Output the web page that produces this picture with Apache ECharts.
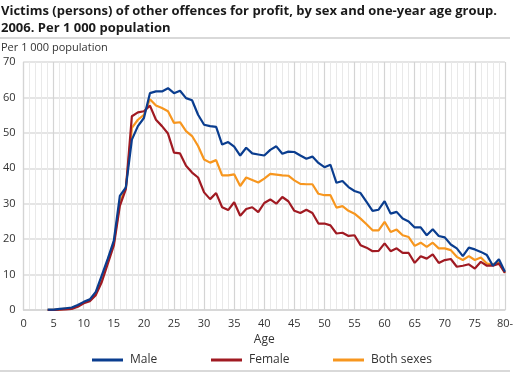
<!DOCTYPE html>
<html>
<head>
<meta charset="utf-8">
<script src="https://cdn.jsdelivr.net/npm/echarts@6/dist/echarts.min.js"></script>
<style>
  html, body { margin: 0; padding: 0; background: #fff; }
  #chart { width: 516px; height: 375px; }
</style>
</head>
<body>
<div id="chart"></div>
<script>
// ages 4..80 (80 = "80-")
var ages = [4, 5, 6, 7, 8, 9, 10, 11, 12, 13, 14, 15, 16, 17, 18, 19, 20, 21, 22, 23, 24, 25, 26, 27, 28, 29,
    30, 31, 32, 33, 34, 35, 36, 37, 38, 39, 40, 41, 42, 43, 44, 45, 46, 47, 48, 49, 50, 51, 52, 53, 54, 55,
    56, 57, 58, 59, 60, 61, 62, 63, 64, 65, 66, 67, 68, 69, 70, 71, 72, 73, 74, 75, 76, 77, 78, 79, 80];

var male = [0.1, 0.1, 0.3, 0.5, 0.7, 1.4, 2.3, 3.0, 5.1, 9.8, 14.5, 19.6, 32.2, 34.6, 48.1, 51.9, 54.2, 61.2,
    61.7, 61.7, 62.6, 61.2, 61.9, 59.8, 59.2, 55.1, 52.3, 51.9, 51.7, 46.7, 47.4, 46.1, 43.6, 45.8, 44.2, 43.9,
    43.6, 45.2, 46.2, 44.1, 44.7, 44.6, 43.6, 42.7, 43.3, 41.5, 40.3, 41.0, 35.9, 36.4, 34.7, 33.6, 33.0, 30.5,
    28.0, 28.3, 30.7, 27.2, 27.7, 25.8, 25.0, 23.3, 23.3, 21.1, 22.8, 20.9, 20.5, 18.5, 17.4, 15.2, 17.6, 17.1,
    16.4, 15.5, 12.5, 14.3, 10.8];

var female = [0, 0, 0.1, 0.2, 0.3, 0.9, 1.9, 2.5, 4.2, 7.9, 13.1, 18.2, 29.4, 34.1, 54.7, 55.8, 56.1, 57.7,
    53.7, 51.9, 49.8, 44.4, 44.2, 40.7, 38.8, 37.4, 33.2, 31.3, 33.0, 29.0, 28.2, 30.4, 26.6, 28.5, 29.0, 27.6,
    30.2, 31.2, 30.0, 31.9, 30.7, 28.0, 27.4, 28.3, 27.4, 24.4, 24.4, 23.9, 21.6, 21.8, 20.9, 21.1, 18.3, 17.6,
    16.6, 16.7, 18.8, 16.6, 17.4, 16.1, 16.1, 13.3, 15.2, 14.5, 15.7, 13.3, 14.1, 14.4, 12.2, 12.5, 12.9, 11.7,
    13.6, 12.5, 12.5, 13.1, 10.5];

var both = [0.05, 0.05, 0.2, 0.4, 0.5, 1.2, 2.1, 2.8, 4.7, 8.9, 13.7, 19.0, 30.4, 34.6, 51.4, 53.7, 55.1, 59.5,
    57.7, 57.0, 56.1, 52.8, 53.0, 50.5, 49.1, 46.3, 42.5, 41.6, 42.3, 38.0, 38.0, 38.3, 35.0, 37.4, 36.7, 36.0,
    37.1, 38.4, 38.2, 38.0, 37.9, 36.6, 35.6, 35.5, 35.5, 32.8, 32.4, 32.4, 28.9, 29.3, 28.0, 27.2, 25.8, 24.2,
    22.5, 22.5, 24.9, 22.0, 22.7, 21.1, 20.6, 18.1, 19.0, 17.8, 19.0, 17.4, 17.4, 16.9, 15.0, 14.1, 15.2, 14.1,
    14.8, 13.1, 12.9, 13.4, 10.5];

var seriesNames = ['Male', 'Female', 'Both sexes'];
var colors = ['#0a3d8f', '#a01a22', '#f7961e'];
var seriesData = [male, female, both];

var font = '"Open Sans", sans-serif';

function pairs(vals) {
    var out = [];
    for (var i = 0; i < ages.length; i++) out.push([ages[i], vals[i]]);
    return out;
}

var chart = echarts.init(document.getElementById('chart'), null, { renderer: 'canvas' });

var lineSer = [];
for (var i = 0; i < seriesNames.length; i++) {
    lineSer.push({
        name: seriesNames[i],
        type: 'line',
        data: pairs(seriesData[i]),
        showSymbol: false,
        symbol: 'none',
        lineStyle: { color: colors[i], width: 2.2 },
        itemStyle: { color: colors[i] },
        z: 10 - i
    });
}

// legends positioned individually
var legendLeft = [87, 206, 328];
var legends = [];
for (var j = 0; j < seriesNames.length; j++) {
    legends.push({
        data: [seriesNames[j]],
        left: legendLeft[j],
        top: 349,
        itemWidth: 31,
        itemHeight: 3,
        itemGap: 0,
        icon: 'rect',
        textStyle: { fontFamily: font, fontSize: 12, color: '#333', padding: [0, 0, 0, 2] }
    });
}

var option = {
    animation: false,
    title: [
        {
            text: 'Victims (persons) of other offences for profit, by sex and one-year age group.\n2006. Per 1 000 population',
            left: 1,
            top: 3,
            padding: 0,
            textStyle: { fontFamily: font, fontSize: 13, fontWeight: 'bold', color: '#1a1a1a', lineHeight: 17 }
        },
        {
            text: 'Per 1 000 population',
            left: 1,
            top: 42,
            padding: 0,
            textStyle: { fontFamily: font, fontSize: 11, fontWeight: 'normal', color: '#333' }
        }
    ],
    graphic: [
        { type: 'rect', shape: { x: 0, y: 37, width: 510, height: 2 }, style: { fill: '#d9d9d9' } },
        { type: 'rect', shape: { x: 0, y: 370, width: 510, height: 2 }, style: { fill: '#d9d9d9' } }
    ],
    legend: legends,
    grid: { left: 23, right: 10, top: 62, bottom: 65 },
    xAxis: {
        type: 'value',
        min: 0,
        max: 80,
        interval: 5,
        name: 'Age',
        nameLocation: 'middle',
        nameGap: 22,
        nameTextStyle: { fontFamily: font, fontSize: 12, color: '#333' },
        axisLine: { show: true, lineStyle: { color: '#d4d4d4', width: 1.5 } },
        axisTick: { show: false },
        axisLabel: {
            fontFamily: font, fontSize: 11, color: '#333', margin: 8,
            formatter: function (v) { return v === 80 ? '80-' : String(v); }
        },
        splitLine: { show: true, lineStyle: { color: '#d4d4d4', width: 1.2 } },
        minorTick: { show: false, splitNumber: 5 },
        minorSplitLine: { show: true, lineStyle: { color: '#e9e9e9', width: 1 } }
    },
    yAxis: {
        type: 'value',
        min: 0,
        max: 70,
        interval: 10,
        axisLine: { show: true, lineStyle: { color: '#d4d4d4', width: 1.2 } },
        axisTick: { show: false },
        axisLabel: { fontFamily: font, fontSize: 11, color: '#333', margin: 8 },
        splitLine: { show: true, lineStyle: { color: '#dcdcdc', width: 1.5 } }
    },
    series: lineSer
};

chart.setOption(option);
</script>
</body>
</html>
